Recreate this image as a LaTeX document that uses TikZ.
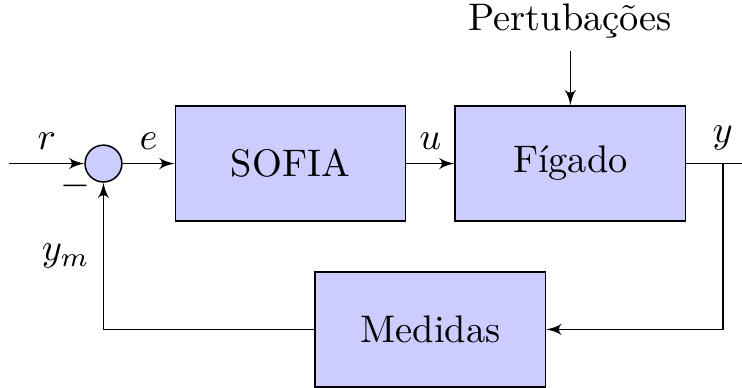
\documentclass[tikz,border=0pt]{standalone}
\usepackage{xcolor}
\usepackage{tikz}
\usepackage{amsmath}
\usetikzlibrary{positioning,calc,arrows}

\begin{document}
\begin{tikzpicture}[
    auto,
    >=latex',
    block/.style={
        rectangle,draw,fill=blue!20,
        minimum width=6em,
        minimum height=3em
    },
    sum/.style={
        circle,draw,fill=blue!20,
        inner sep=0pt,
        minimum size=9.6pt
    },
    arrow/.style={->}
]
\useasboundingbox (-26.95pt,-58.2pt) rectangle (166.3pt,42.6pt);
\node[sum] (sum) {};
\coordinate[left=19.5pt of sum] (input);
\node[block, right=13.5pt of sum] (sofia) {SOFIA};
\node[block, right=12.5pt of sofia] (figado) {Fígado};
\coordinate[right=19pt of figado] (output);
\node[above=14pt of figado] (pert) {Pertubações};
\coordinate (mid) at ($(sofia.south)!0.5!(figado.south)$);
\node[block, below=12.8pt of mid] (medidas) {Medidas};

\draw[arrow] (input) -- node (r) {$r$} (sum);
\draw[arrow] (sum) -- node (e) {$e$} (sofia);
\draw[arrow] (sofia) -- node (u) {$u$} (figado);
\draw[arrow] (figado) -- node (y) {$y$} (output);
\draw[arrow] (pert) -- (figado);
\draw[arrow] (y) |- (medidas);
\draw[arrow] (medidas) -| node[pos=0.99] (minus) {$-$} node[near end] (ym) {$y_m$} (sum);
\end{tikzpicture}
\end{document}
